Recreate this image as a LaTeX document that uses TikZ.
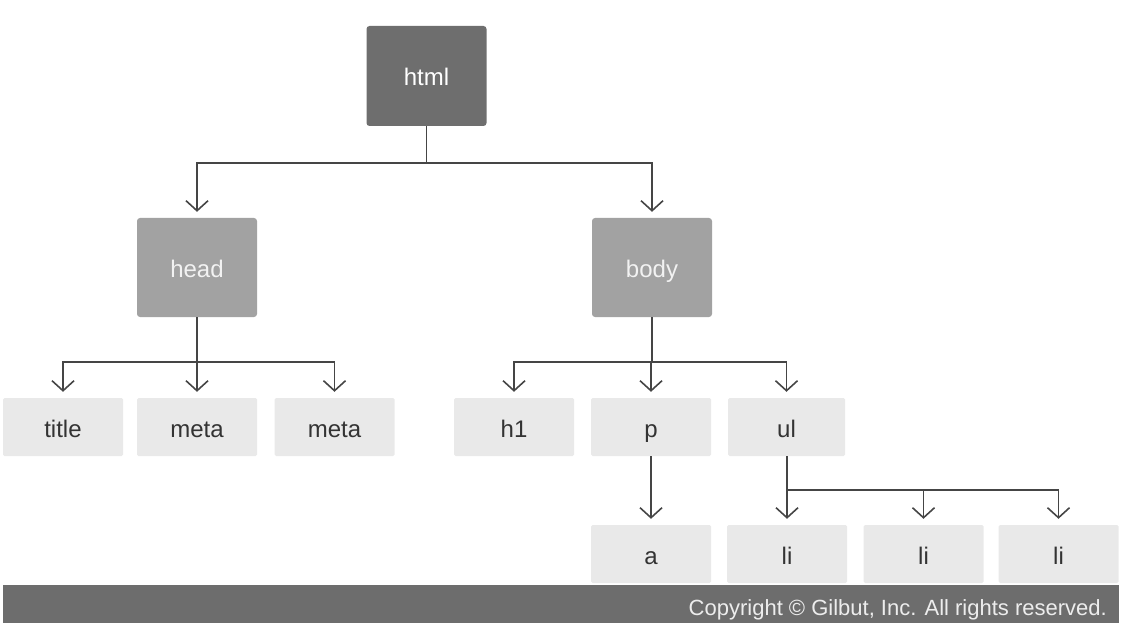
\documentclass[tikz,border=0pt]{standalone}
\usepackage{fontspec}
\setmainfont{Liberation Sans}
\usepackage{xcolor}
\usepackage{tikz}
\usetikzlibrary{arrows.meta,calc,positioning}

\definecolor{rootgray}{HTML}{6E6E6E}
\definecolor{midgray}{HTML}{A2A2A2}
\definecolor{leafgray}{HTML}{E9E9E9}
\definecolor{linegray}{HTML}{454545}
\definecolor{bargray}{HTML}{6D6D6D}

\tikzset{
  elem/.style={minimum width=120pt, inner sep=0pt, text height=20pt, text depth=0pt, font=\fontsize{24}{24}\selectfont},
  rootbox/.style={elem, fill=rootgray, text=white, minimum height=100pt, rounded corners=3pt},
  midbox/.style={elem, fill=midgray, text=white!95!black, minimum height=99pt, rounded corners=3pt},
  leafbox/.style={elem, fill=leafgray, text=black!80, minimum height=58pt, rounded corners=1.5pt},
  link/.style={draw=linegray, line width=1.6pt, -{Straight Barb[length=10pt,width=22pt,line width=1.6pt]}, shorten >=6pt}
}

\begin{document}
\begin{tikzpicture}[x=1pt,y=-1pt]
    \useasboundingbox (0,0) rectangle (1124,628);
    % top levels
    \node[rootbox] (html) at (426.5,76) {html};
    \node[midbox] (head) at (197,267.5) {head};
    \node[midbox] (body) at (652,267.5) {body};
    % third row
    \node[leafbox] (title) at (63,427) {title};
    \node[leafbox] (meta1) at (197,427) {meta};
    \node[leafbox] (meta2) at (334.5,427) {meta};
    \node[leafbox] (h1) at (514,427) {h1};
    \node[leafbox] (p) at (651,427) {p};
    \node[leafbox, minimum width=117pt] (ul) at (786.5,427) {ul};
    % fourth row
    \node[leafbox] (a) at (651,554) {a};
    \foreach \x/\name in {787/li1, 923.5/li2, 1058.5/li3} {
      \node[leafbox] (\name) at (\x,554) {li};
    }
    % connectors
    \coordinate (htmlfork) at ($(html.south)+(0,37)$);
    \draw[link] (html.south) -- (htmlfork) -| (head.north);
    \draw[link] (htmlfork) -| (body.north);
    \coordinate (headfork) at ($(head.south)+(0,45)$);
    \foreach \kid in {title, meta1, meta2} {
      \draw[link] (head.south) -- (headfork) -| (\kid.north);
    }
    \coordinate (bodyfork) at ($(body.south)+(0,45)$);
    \foreach \kid in {h1, p, ul} {
      \draw[link] (body.south) -- (bodyfork) -| (\kid.north);
    }
    \draw[link] (p.south) -- (a.north);
    \coordinate (ulfork) at ($(ul.south)+(0.5,34)$);
    \foreach \kid in {li1, li2, li3} {
      \draw[link] (ul.south -| li1.north) -- (ulfork) -| (\kid.north);
    }
    % footer bar
    \fill[bargray] (3,585) rectangle (1119,622.5);
    \node[anchor=base east, text=white!93!black, inner sep=0pt, font=\fontsize{22}{22}\selectfont] (copy) at (1107,615) {Copyright \textcopyright{} Gilbut, Inc. All rights reserved.};
\end{tikzpicture}
\end{document}
